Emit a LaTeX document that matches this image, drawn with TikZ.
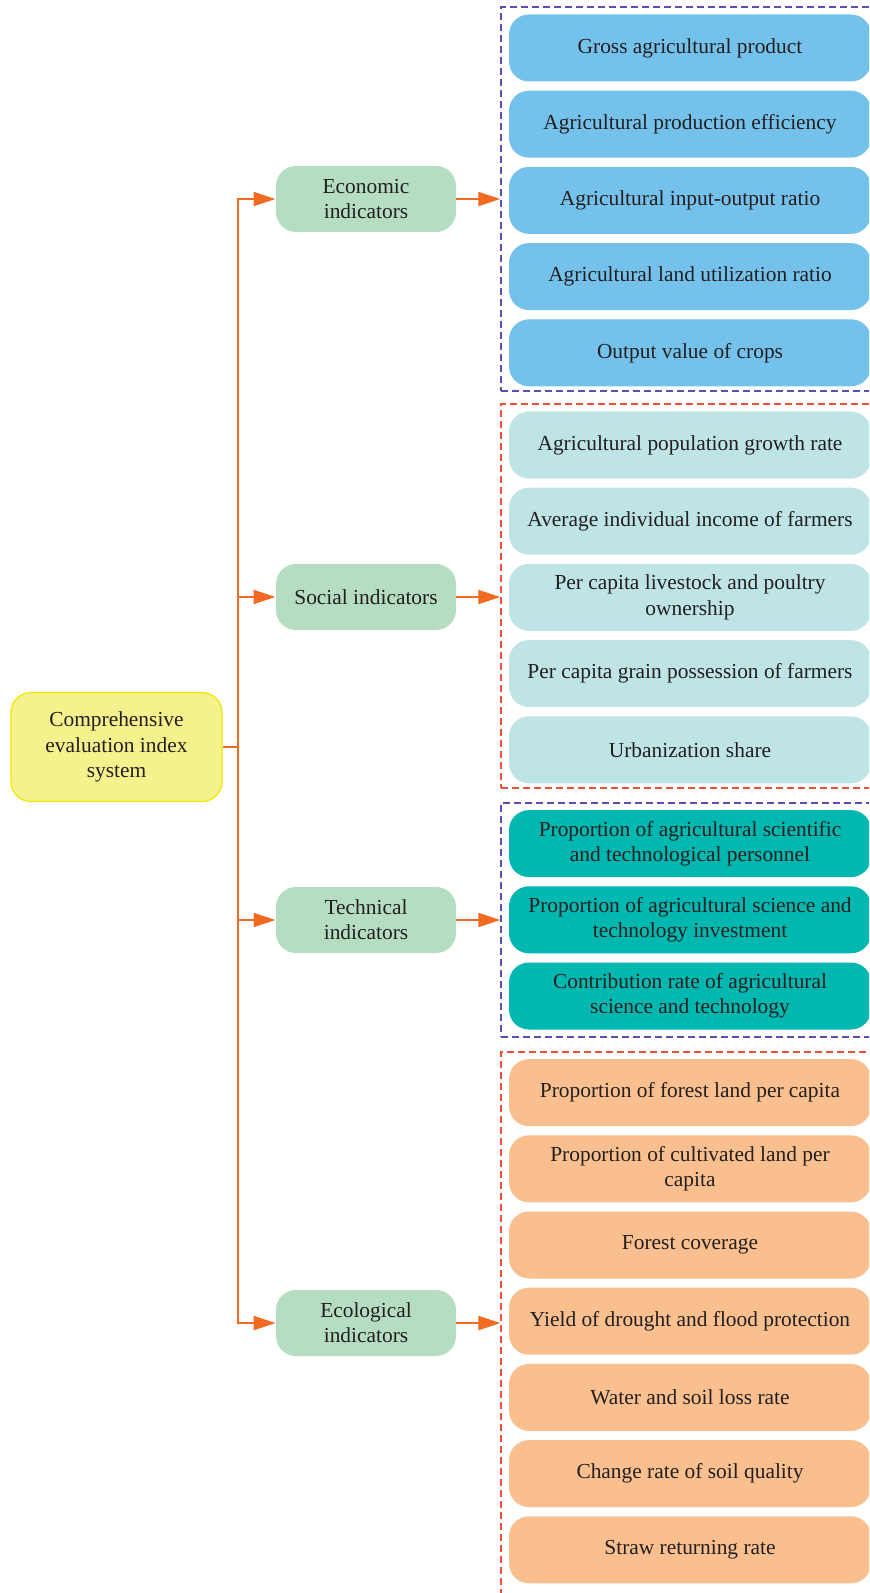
\documentclass[tikz,border=0pt]{standalone}
\usepackage{fontspec}
\setmainfont{Liberation Serif}
\usetikzlibrary{arrows.meta, fit, positioning}
\definecolor{arrorange}{HTML}{F26A21}
\definecolor{txtgray}{HTML}{231F20}
\definecolor{econblue}{HTML}{74C2EB}
\definecolor{socialcyan}{HTML}{BEE4E6}
\definecolor{techteal}{HTML}{00B8B0}
\definecolor{ecopeach}{HTML}{F9BF8E}
\definecolor{midgreen}{HTML}{B5DDC1}
\definecolor{rootyellow}{HTML}{F5F28E}
\definecolor{rootedge}{HTML}{F2E600}
\definecolor{frameblue}{HTML}{5B4FB4}
\definecolor{framered}{HTML}{F0503A}
\tikzset{
    every node/.style = {font=\fontsize{10.7}{12.6}\selectfont, text=txtgray},
    leaf/.style  = {rounded corners=10pt, minimum width=181pt, minimum height=33.5pt, align=center, inner sep=1pt},
    mid/.style   = {rounded corners=10pt, fill=midgreen, minimum width=90pt, minimum height=33pt, align=center, inner sep=1pt},
    root/.style  = {rounded corners=10pt, fill=rootyellow, draw=rootedge, line width=0.6pt, minimum width=105.5pt, minimum height=54.5pt, align=center},
    bframe/.style = {draw=frameblue, line width=0.65pt, dash pattern=on 3.5pt off 2pt, inner sep=0pt},
    rframe/.style = {draw=framered, line width=0.65pt, dash pattern=on 3.5pt off 2pt, inner sep=0pt},
    arr/.style   = {draw=arrorange, line width=1pt, -{Triangle[length=11pt,width=7pt]}},
    link/.style  = {draw=arrorange, line width=1pt}
}
\begin{document}
\begin{tikzpicture}[x=0.5pt, y=-0.5pt]
  \useasboundingbox (0,0) rectangle (869,1593);
  \clip (0,0) rectangle (869,1593);

  % dashed groups
  \node[bframe, fit={(501,7) (900,391)}] (efr) {};
  \node[rframe, fit={(501,404) (900,788)}] (sfr) {};
  \node[bframe, fit={(501,803) (900,1037)}] (tfr) {};
  \node[rframe, fit={(501,1052) (900,1620)}] (gfr) {};

  % economic
  \node[leaf, fill=econblue] (e1) at (690,48) {Gross agricultural product};
  \node[leaf, fill=econblue] (e2) at (690,124.2) {Agricultural production efficiency};
  \node[leaf, fill=econblue] (e3) at (690,200.4) {Agricultural input-output ratio};
  \node[leaf, fill=econblue] (e4) at (690,276.6) {Agricultural land utilization ratio};
  \node[leaf, fill=econblue] (e5) at (690,352.8) {Output value of crops};

  % social
  \node[leaf, fill=socialcyan] (s1) at (690,445) {Agricultural population growth rate};
  \node[leaf, fill=socialcyan] (s2) at (690,521.2) {Average individual income of farmers};
  \node[leaf, fill=socialcyan] (s3) at (690,597.4) {Per capita livestock and poultry\\ownership};
  \node[leaf, fill=socialcyan] (s4) at (690,673.6) {Per capita grain possession of farmers};
  \node[leaf, fill=socialcyan] (s5) at (690,749.8) {Urbanization share};

  % technical
  \node[leaf, fill=techteal] (t1) at (690,843.6) {Proportion of agricultural scientific\\and technological personnel};
  \node[leaf, fill=techteal] (t2) at (690,919.8) {Proportion of agricultural science and\\technology investment};
  \node[leaf, fill=techteal] (t3) at (690,996) {Contribution rate of agricultural\\science and technology};

  % ecological
  \node[leaf, fill=ecopeach] (g1) at (690,1092.6) {Proportion of forest land per capita};
  \node[leaf, fill=ecopeach] (g2) at (690,1168.8) {Proportion of cultivated land per\\capita};
  \node[leaf, fill=ecopeach] (g3) at (690,1245) {Forest coverage};
  \node[leaf, fill=ecopeach] (g4) at (690,1321.2) {Yield of drought and flood protection};
  \node[leaf, fill=ecopeach] (g5) at (690,1397.4) {Water and soil loss rate};
  \node[leaf, fill=ecopeach] (g6) at (690,1473.6) {Change rate of soil quality};
  \node[leaf, fill=ecopeach] (g7) at (690,1549.8) {Straw returning rate};

  % middle level
  \node[mid] (econ) at (366,199) {Economic\\indicators};
  \node[mid] (soc)  at (366,597) {Social indicators};
  \node[mid] (tech) at (366,920) {Technical\\indicators};
  \node[mid] (eco)  at (366,1323) {Ecological\\indicators};

  \node[root] (sys) at (116.5,747) {Comprehensive\\evaluation index\\system};

  \coordinate (trunk) at (238,747);
  \draw[link] (sys.east) -- (trunk);
  \draw[arr] (trunk) |- (econ.west);
  \draw[arr] (trunk) |- (soc.west);
  \draw[arr] (trunk) |- (tech.west);
  \draw[arr] (trunk) |- (eco.west);

  \draw[arr] (econ.east) -- (econ.east -| efr.west);
  \draw[arr] (soc.east) -- (soc.east -| sfr.west);
  \draw[arr] (tech.east) -- (tech.east -| tfr.west);
  \draw[arr] (eco.east) -- (eco.east -| gfr.west);
\end{tikzpicture}
\end{document}
